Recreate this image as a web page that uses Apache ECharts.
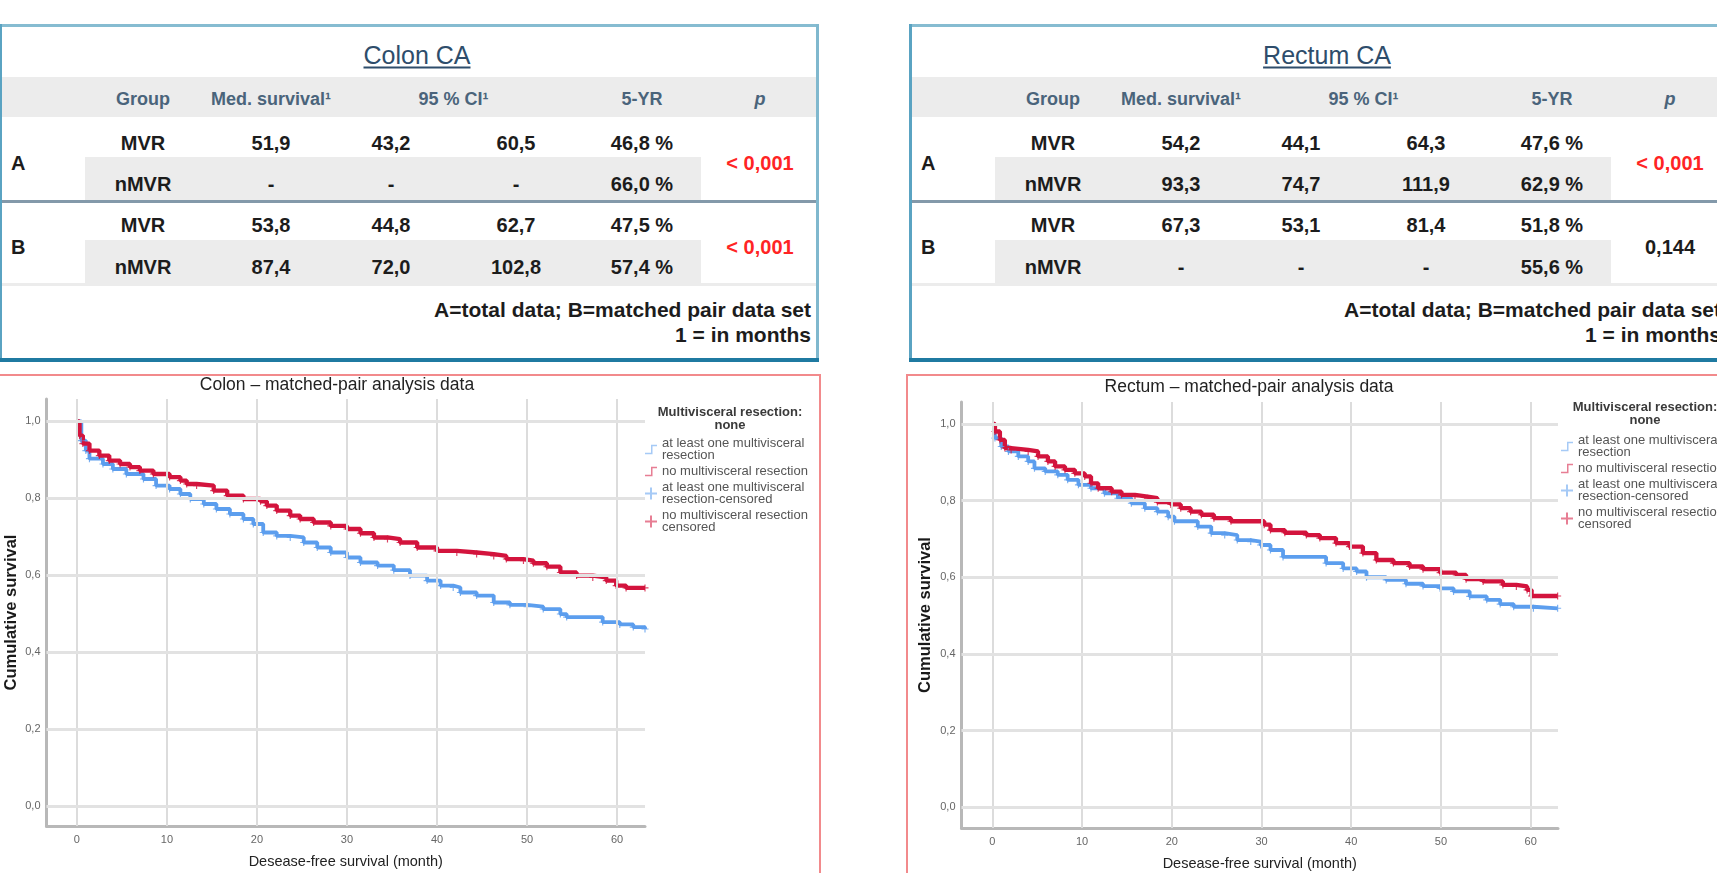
<!DOCTYPE html>
<html>
<head>
<meta charset="utf-8">
<script src="https://cdn.jsdelivr.net/npm/echarts@6/dist/echarts.min.js"></script>
<style>
  html, body { margin: 0; padding: 0; width: 1717px; height: 873px; overflow: hidden; background: #fff; }
  body { position: relative; font-family: "Liberation Sans", Arial, sans-serif; }
  .tbl { position: absolute; top: 0; width: 820px; height: 873px; }
  .tbl div { position: absolute; }
  .bt { left: 0; top: 24px; width: 820px; height: 3px; background: #86bcd1; }
  .bl { left: 0; top: 24px; width: 3px; height: 338px; background: #5aa3c2; }
  .br { left: 817px; top: 24px; width: 3px; height: 338px; background: #80b8ce; }
  .bb { left: 0; top: 358px; width: 820px; height: 4px; background: #1f7aa1; }
  .band { background: #ececec; }
  .hd { left: 3px; top: 77px; width: 814px; height: 40px; }
  .ra { left: 86px; top: 157px; width: 616px; height: 44px; }
  .rb { left: 86px; top: 240px; width: 616px; height: 43px; }
  .sep { left: 3px; top: 200px; width: 814px; height: 3px; background: #8399aa; }
  .lin { left: 3px; top: 283px; width: 814px; height: 3px; background: #ececec; }
  .c { transform: translate(-50%, -50%); white-space: nowrap; }
  .ttl { font-size: 25px; color: #2e4d6b; text-decoration: underline; text-underline-offset: 3px; }
  .h { font-size: 18px; font-weight: bold; color: #4a647b; }
  .v { font-size: 20px; font-weight: bold; color: #1c1c1c; }
  .pr { color: #ff2424; }
  .note { right: 8px; transform: translateY(-50%); white-space: nowrap; font-size: 21px; font-weight: bold; color: #1c1c1c; }
  .frame { position: absolute; top: 374px; height: 520px; border: 2px solid #f28a8c; box-sizing: border-box; }
  #chart { position: absolute; left: 0; top: 0; width: 1717px; height: 873px; z-index: 2; }
</style>
</head>
<body>
<div class="frame" style="left:-3px;width:824px;"></div>
<div class="frame" style="left:906px;width:900px;"></div>
<div id="chart"></div>
<script>
// ---- table data ----
const tableHeader = ['Group', 'Med. survival¹', '95 % CI¹', '5-YR', 'p'];
const rowSets = ['A', 'B'];
const tableNotes = ['A=total data; B=matched pair data set', '1 = in months'];

const colonTitle = 'Colon CA';
const colonGroup = ['MVR', 'nMVR', 'MVR', 'nMVR'];
const colonMedian = ['51,9', '-', '53,8', '87,4'];
const colonCiLow = ['43,2', '-', '44,8', '72,0'];
const colonCiHigh = ['60,5', '-', '62,7', '102,8'];
const colonFiveYear = ['46,8 %', '66,0 %', '47,5 %', '57,4 %'];
const colonP = ['< 0,001', '< 0,001'];

const rectumTitle = 'Rectum CA';
const rectumGroup = ['MVR', 'nMVR', 'MVR', 'nMVR'];
const rectumMedian = ['54,2', '93,3', '67,3', '-'];
const rectumCiLow = ['44,1', '74,7', '53,1', '-'];
const rectumCiHigh = ['64,3', '111,9', '81,4', '-'];
const rectumFiveYear = ['47,6 %', '62,9 %', '51,8 %', '55,6 %'];
const rectumP = ['< 0,001', '0,144'];

// ---- survival curves (month, cumulative survival) ----
const colonMvrT = [0, 0.5, 1.0, 1.4, 2.9, 4.0, 5.5, 7.4, 8.8, 10.3, 11.5, 12.6, 14.1, 15.5, 17.0, 18.5, 19.6, 20.7, 22.2, 23.7, 25.2, 26.7, 28.2, 30.0, 31.5, 33.4, 35.2, 37.0, 38.9, 40.4, 41.8, 42.6, 44.4, 46.3, 48.1, 50.0, 51.8, 53.7, 54.4, 58.4, 60.3, 61.8, 63.1];
const colonMvrS = [1.0, 0.950, 0.924, 0.903, 0.889, 0.876, 0.863, 0.850, 0.833, 0.824, 0.811, 0.798, 0.785, 0.772, 0.759, 0.746, 0.733, 0.711, 0.702, 0.698, 0.685, 0.672, 0.659, 0.646, 0.633, 0.625, 0.613, 0.599, 0.586, 0.573, 0.568, 0.555, 0.547, 0.529, 0.523, 0.518, 0.512, 0.499, 0.491, 0.478, 0.472, 0.465, 0.460];
const colonNoneT = [0, 0.3, 0.67, 1.4, 2.5, 3.6, 4.8, 5.9, 7.0, 8.5, 10.3, 11.5, 12.2, 13.3, 15.2, 16.7, 18.5, 20.4, 21.1, 22.2, 23.7, 24.8, 26.3, 28.2, 30.0, 31.5, 33.0, 34.5, 35.9, 37.8, 40.0, 42.2, 44.4, 46.3, 47.7, 49.6, 50.7, 52.2, 53.7, 55.5, 57.3, 58.8, 59.9, 61.0, 63.1];
const colonNoneS = [1.0, 0.963, 0.942, 0.924, 0.911, 0.898, 0.889, 0.881, 0.872, 0.863, 0.855, 0.846, 0.837, 0.833, 0.820, 0.807, 0.798, 0.792, 0.781, 0.768, 0.755, 0.746, 0.737, 0.728, 0.720, 0.709, 0.698, 0.694, 0.685, 0.672, 0.663, 0.659, 0.655, 0.650, 0.642, 0.638, 0.631, 0.622, 0.607, 0.599, 0.594, 0.586, 0.573, 0.567, 0.567];

const rectumMvrT = [0, 0.3, 1.0, 1.8, 2.9, 4.0, 4.7, 5.9, 7.3, 8.4, 9.6, 11.0, 12.5, 14.0, 15.5, 17.0, 18.4, 19.6, 20.3, 22.9, 24.4, 25.9, 27.3, 28.8, 29.9, 31.0, 32.4, 37.2, 39.1, 40.6, 41.7, 43.9, 46.1, 48.0, 49.9, 51.4, 53.2, 55.1, 56.6, 58.1, 60.3, 63.0];
const rectumMvrS = [1.0, 0.963, 0.941, 0.928, 0.915, 0.902, 0.884, 0.876, 0.867, 0.854, 0.841, 0.832, 0.819, 0.806, 0.793, 0.780, 0.771, 0.758, 0.746, 0.732, 0.715, 0.710, 0.697, 0.693, 0.684, 0.671, 0.653, 0.637, 0.623, 0.615, 0.600, 0.593, 0.583, 0.577, 0.571, 0.563, 0.550, 0.541, 0.530, 0.523, 0.519, 0.519];
const rectumNoneT = [0, 0.3, 0.85, 1.4, 2.1, 4.0, 5.1, 6.2, 7.0, 8.1, 9.2, 10.3, 11.0, 11.8, 13.3, 14.4, 15.9, 17.3, 18.4, 19.9, 21.0, 22.1, 23.3, 24.7, 26.6, 30.3, 31.0, 32.6, 35.0, 36.5, 38.3, 39.8, 41.3, 42.8, 44.7, 46.5, 48.0, 49.9, 51.7, 52.8, 54.7, 56.9, 58.4, 59.6, 60.1, 63.0];
const rectumNoneS = [1.0, 0.980, 0.958, 0.937, 0.932, 0.928, 0.915, 0.902, 0.889, 0.880, 0.871, 0.863, 0.845, 0.832, 0.823, 0.815, 0.810, 0.806, 0.796, 0.790, 0.780, 0.771, 0.763, 0.754, 0.746, 0.737, 0.723, 0.716, 0.710, 0.702, 0.689, 0.680, 0.663, 0.645, 0.637, 0.628, 0.621, 0.612, 0.606, 0.595, 0.589, 0.580, 0.576, 0.567, 0.551, 0.551];

const xTicks = [0, 10, 20, 30, 40, 50, 60];
const yTicks = [0, 0.2, 0.4, 0.6, 0.8, 1.0];
const chartTitles = ['Colon – matched-pair analysis data', 'Rectum – matched-pair analysis data'];
const legendTitle = 'Multivisceral resection:\nnone';
const seriesNames = ['at least one multivisceral resection', 'no multivisceral resection',
  'at least one multivisceral resection-censored', 'no multivisceral resection censored'];
const legendLabels = {
  'at least one multivisceral resection': 'at least one multivisceral\nresection',
  'no multivisceral resection': 'no multivisceral resection',
  'at least one multivisceral resection-censored': 'at least one multivisceral\nresection-censored',
  'no multivisceral resection censored': 'no multivisceral resection\ncensored'
};

// ---- tables ----
const colX = [144, 272, 392, 517, 643, 761];
const rowY = [143, 184, 225, 267];
const setY = [163, 247];

function cell(x, y, cls, text) {
  return `<div class="c ${cls}" style="left:${x}px;top:${y}px">${text}</div>`;
}

function buildTable(left, title, cols, pvals) {
  const box = document.createElement('div');
  box.className = 'tbl';
  box.style.left = left + 'px';
  let html = '<div class="band hd"></div><div class="band ra"></div><div class="band rb"></div>' +
    '<div class="sep"></div><div class="lin"></div>' +
    '<div class="bt"></div><div class="bl"></div><div class="br"></div><div class="bb"></div>';
  html += cell(418, 55, 'ttl', title);
  html += cell(colX[0], 99, 'h', tableHeader[0]);
  html += cell(colX[1], 99, 'h', tableHeader[1]);
  html += cell((colX[2] + colX[3]) / 2, 99, 'h', tableHeader[2]);
  html += cell(colX[4], 99, 'h', tableHeader[3]);
  html += cell(colX[5], 99, 'h', '<i>' + tableHeader[4] + '</i>');
  rowY.forEach((y, r) => {
    cols.forEach((col, c) => { html += cell(colX[c], y, 'v', col[r]); });
  });
  rowSets.forEach((s, i) => {
    html += `<div class="v" style="left:12px;top:${setY[i]}px;transform:translateY(-50%)">${s}</div>`;
    const sig = pvals[i].indexOf('<') === 0 || parseFloat(pvals[i].replace(',', '.')) < 0.05;
    html += cell(colX[5], setY[i], 'v' + (sig ? ' pr' : ''), pvals[i]);
  });
  html += `<div class="note" style="top:310px">${tableNotes[0]}</div>`;
  html += `<div class="note" style="top:335px">${tableNotes[1]}</div>`;
  box.innerHTML = html;
  document.body.insertBefore(box, document.body.firstChild);
}

buildTable(-1, colonTitle, [colonGroup, colonMedian, colonCiLow, colonCiHigh, colonFiveYear], colonP);
buildTable(909, rectumTitle, [rectumGroup, rectumMedian, rectumCiLow, rectumCiHigh, rectumFiveYear], rectumP);

// ---- charts ----
const FONT = '"Liberation Sans", Arial, sans-serif';
const BLUE = '#5c9eee';
const RED = '#d3143d';
const stepIcon = 'path://M0,9 L6,9 L6,1 L12,1 L12,2.5 L7.5,2.5 L7.5,10.5 L0,10.5 Z';
const plusIcon = 'path://M5,0 L7,0 L7,5 L12,5 L12,7 L7,7 L7,12 L5,12 L5,7 L0,7 L0,5 L5,5 Z';

const grids = [
  { left: 46.5, top: 399, width: 598.5, height: 427 },
  { left: 961.5, top: 402, width: 596.5, height: 426 }
];
const xRanges = [[-3.37, 63.1], [-3.43, 63.04]];
const yRanges = [[-0.052, 1.058], [-0.054, 1.057]];
const yNameGap = [27, 28];

function pairs(t, s) { return t.map((v, i) => [v, s[i]]); }

function gridSeries(g) {
  return {
    type: 'line', xAxisIndex: g, yAxisIndex: g, data: [], silent: true, z: 1,
    markLine: {
      silent: true, symbol: ['none', 'none'], label: { show: false }, animation: false,
      data: xTicks.map(v => ({ xAxis: v, lineStyle: { color: '#dcdcdc', width: 2, type: 'solid' } }))
        .concat(yTicks.map(v => ({ yAxis: v, lineStyle: { color: '#e2e2e2', width: 3, type: 'solid' } })))
    }
  };
}

function curveSeries(g, name, t, s, color, width) {
  return {
    name, type: 'line', xAxisIndex: g, yAxisIndex: g, step: 'end', showSymbol: false, z: 3,
    data: pairs(t, s), itemStyle: { color }, lineStyle: { color, width }
  };
}

function censorSeries(g, name, t, s, color) {
  return {
    name, type: 'scatter', xAxisIndex: g, yAxisIndex: g, z: 4, symbol: plusIcon, symbolSize: 7,
    data: pairs(t.slice(1), s.slice(1)), itemStyle: { color }
  };
}

const curves = [
  [colonMvrT, colonMvrS, colonNoneT, colonNoneS],
  [rectumMvrT, rectumMvrS, rectumNoneT, rectumNoneS]
];

const series = [];
curves.forEach((c, g) => {
  series.push(gridSeries(g));
  series.push(curveSeries(g, seriesNames[0], c[0], c[1], BLUE, 3.8));
  series.push(curveSeries(g, seriesNames[1], c[2], c[3], RED, 4.3));
  series.push(censorSeries(g, seriesNames[2], c[0], c[1], BLUE));
  series.push(censorSeries(g, seriesNames[3], c[2], c[3], RED));
});

function isMultiple(v, step) {
  const k = v / step;
  return Math.abs(k - Math.round(k)) < 1e-6;
}

const titleText = { fontFamily: FONT, fontSize: 17.5, fontWeight: 'normal', color: '#222' };
const legendTitleText = { fontFamily: FONT, fontSize: 13, fontWeight: 'bold', color: '#3a3a3a', lineHeight: 13 };

const option = {
  animation: false,
  textStyle: { fontFamily: FONT },
  title: [
    { text: chartTitles[0], left: 337, top: 376, textAlign: 'center', padding: 0, textStyle: titleText },
    { text: chartTitles[1], left: 1249, top: 378, textAlign: 'center', padding: 0, textStyle: titleText },
    { text: legendTitle, left: 730, top: 406, textAlign: 'center', padding: 0, textStyle: legendTitleText },
    { text: legendTitle, left: 1645, top: 401, textAlign: 'center', padding: 0, textStyle: legendTitleText }
  ],
  legend: [645, 1561].map((x, i) => ({
    orient: 'vertical', left: x, top: i === 0 ? 437 : 434, padding: 0,
    itemWidth: 12, itemHeight: 12, itemGap: 3, selectedMode: false,
    itemStyle: { opacity: 0.55 },
    data: seriesNames.map((n, k) => ({ name: n, icon: k < 2 ? stepIcon : plusIcon })),
    formatter: n => legendLabels[n],
    textStyle: { fontFamily: FONT, fontSize: 13, color: '#555', lineHeight: 12 }
  })),
  grid: grids.map(g => Object.assign({ containLabel: false }, g)),
  xAxis: grids.map((g, i) => ({
    type: 'value', gridIndex: i, min: xRanges[i][0], max: xRanges[i][1],
    name: 'Desease-free survival (month)', nameLocation: 'middle', nameGap: 28,
    nameTextStyle: { fontFamily: FONT, fontSize: 14.5, color: '#222' },
    axisLine: { show: true, onZero: false, lineStyle: { color: '#b8b8b8', width: 3 } },
    axisTick: { show: false }, splitLine: { show: false },
    axisLabel: { margin: 8, fontSize: 11, color: '#666', fontFamily: FONT,
      formatter: v => isMultiple(v, 10) ? String(Math.round(v)) : '' }
  })),
  yAxis: grids.map((g, i) => ({
    type: 'value', gridIndex: i, min: yRanges[i][0], max: yRanges[i][1],
    name: 'Cumulative survival', nameLocation: 'middle', nameGap: yNameGap[i],
    nameTextStyle: { fontFamily: FONT, fontSize: 16.5, fontWeight: 'bold', color: '#1a1a1a' },
    axisLine: { show: true, onZero: false, lineStyle: { color: '#b8b8b8', width: 3 } },
    axisTick: { show: false }, splitLine: { show: false },
    axisLabel: { margin: 6, fontSize: 11, color: '#666', fontFamily: FONT,
      formatter: v => isMultiple(v, 0.2) ? v.toFixed(1).replace('.', ',') : '' }
  })),
  series
};

const chart = echarts.init(document.getElementById('chart'), null, { renderer: 'canvas' });
chart.setOption(option);
</script>
</body>
</html>
